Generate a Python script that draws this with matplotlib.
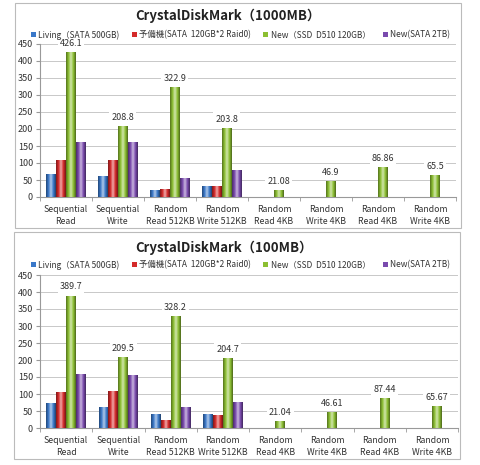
import numpy as np
import matplotlib
matplotlib.use("Agg")
import matplotlib.pyplot as plt
from matplotlib.colors import LinearSegmentedColormap
from matplotlib.patches import Rectangle

plt.rcParams['font.family'] = ['Noto Sans CJK JP', 'DejaVu Sans']

categories = ["Sequential\nRead", "Sequential\nWrite", "Random\nRead 512KB",
              "Random\nWrite 512KB", "Random\nRead 4KB", "Random\nWrite 4KB",
              "Random\nRead 4KB", "Random\nWrite 4KB"]
series_names = ["Living（SATA 500GB)", "予備機(SATA  120GB*2 Raid0)",
                "New（SSD  D510 120GB）", "New(SATA 2TB)"]
series_colors = ["#3a78c9", "#d42a2a", "#8cbf32", "#7a4aae"]

# 1000MB run
living_1000 = [67, 62, 21, 31, 0.5, 0.5, 0.5, 0.5]
yobi_1000 = [108, 108, 24, 33, 0.6, 0.6, 0.6, 0.6]
new_ssd_1000 = [426.1, 208.8, 322.9, 203.8, 21.08, 46.9, 86.86, 65.5]
new_2tb_1000 = [163, 162, 57, 79, 0.6, 0.6, 0.6, 0.6]

# 100MB run
living_100 = [73, 63, 42, 42, 0.5, 0.5, 0.5, 0.5]
yobi_100 = [105, 110, 25, 37, 0.6, 0.6, 0.6, 0.6]
new_ssd_100 = [389.7, 209.5, 328.2, 204.7, 21.04, 46.61, 87.44, 65.67]
new_2tb_100 = [158, 157, 62, 76, 0.6, 0.6, 0.6, 0.6]

yticks = list(range(0, 451, 50))

W, H = 480, 465


def shade(color):
    c = np.array(matplotlib.colors.to_rgb(color))
    dark = c * 0.6
    light = np.clip(c + (1 - c) * 0.6, 0, 1)
    return LinearSegmentedColormap.from_list(
        "cyl", [dark, c, light, c, dark * 0.9])


def draw_panel(fig, ax, title, title_xy, legend_y, data, label_series):
    x = np.arange(len(categories))
    w = 0.19
    handles = []
    for i, (vals, color) in enumerate(zip(data, series_colors)):
        bars = ax.bar(x + (i - 1.5) * w, vals, w, color=color,
                      label=series_names[i], zorder=2, linewidth=0)
        handles.append(bars)
        cmap = shade(color)
        grad = np.linspace(0, 1, 64).reshape(1, -1)
        for b in bars:
            x0, y0 = b.get_x(), b.get_y()
            im = ax.imshow(grad, cmap=cmap, aspect="auto", zorder=3,
                           extent=(x0, x0 + b.get_width(), y0, y0 + b.get_height()))
            im.set_clip_path(b)
        if i == label_series:
            labels = ax.bar_label(bars, labels=[f"{v:g}" for v in vals],
                                  padding=3, fontsize=6.5, color="#333333",
                                  zorder=5)
            for t in labels:
                t.set_bbox(dict(facecolor="white", edgecolor="none", pad=1.5))

    ax.set_xlim(-0.5, len(categories) - 0.5)
    ax.set_ylim(0, 450)
    ax.set_yticks(yticks)
    ax.tick_params(axis="y", labelsize=6.5, length=3, color="#999999",
                   labelcolor="#333333", pad=2)
    ax.set_xticks(x)
    ax.set_xticklabels(categories, fontsize=6.3, color="#333333",
                       linespacing=1.45)
    ax.tick_params(axis="x", length=0, pad=6)
    ax.set_xticks(np.arange(-0.5, len(categories), 1), minor=True)
    ax.tick_params(axis="x", which="minor", length=3, color="#999999")
    ax.yaxis.grid(True, color="#c8c8c8", linewidth=0.7, zorder=0)
    ax.set_axisbelow(True)
    for s in ("top", "right"):
        ax.spines[s].set_visible(False)
    for s in ("left", "bottom"):
        ax.spines[s].set_color("#999999")
        ax.spines[s].set_linewidth(0.8)

    fig.text(title_xy[0] / W, 1 - title_xy[1] / H, title, fontsize=9.5,
             fontweight="bold", color="#222222", ha="center", va="center")
    fig.legend(handles, series_names, loc="center",
               bbox_to_anchor=(31 / W, 1 - legend_y / H, 419 / W, 0),
               mode="expand", ncol=4, frameon=False, fontsize=6,
               handlelength=0.6, handleheight=0.6, handletextpad=0.3,
               borderaxespad=0, borderpad=0, labelcolor="#333333")


fig = plt.figure(figsize=(4.8, 4.65), dpi=100)

# panel frames
for (fx0, fy0, fx1, fy1) in [(15, 3, 461, 228), (14, 232, 460, 459)]:
    fig.patches.append(Rectangle((fx0 / W, 1 - fy1 / H), (fx1 - fx0) / W,
                                 (fy1 - fy0) / H, transform=fig.transFigure,
                                 fill=False, edgecolor="#bbbbbb", linewidth=0.8))

ax1 = fig.add_axes([40 / W, 1 - 197 / H, 416 / W, 153 / H])
ax2 = fig.add_axes([40 / W, 1 - 428 / H, 418 / W, 153 / H])

draw_panel(fig, ax1, "CrystalDiskMark（1000MB）", (228, 16), 35,
           [living_1000, yobi_1000, new_ssd_1000, new_2tb_1000], 2)
draw_panel(fig, ax2, "CrystalDiskMark（100MB）", (224, 248), 265,
           [living_100, yobi_100, new_ssd_100, new_2tb_100], 2)

fig.savefig("out.png", dpi=100)
